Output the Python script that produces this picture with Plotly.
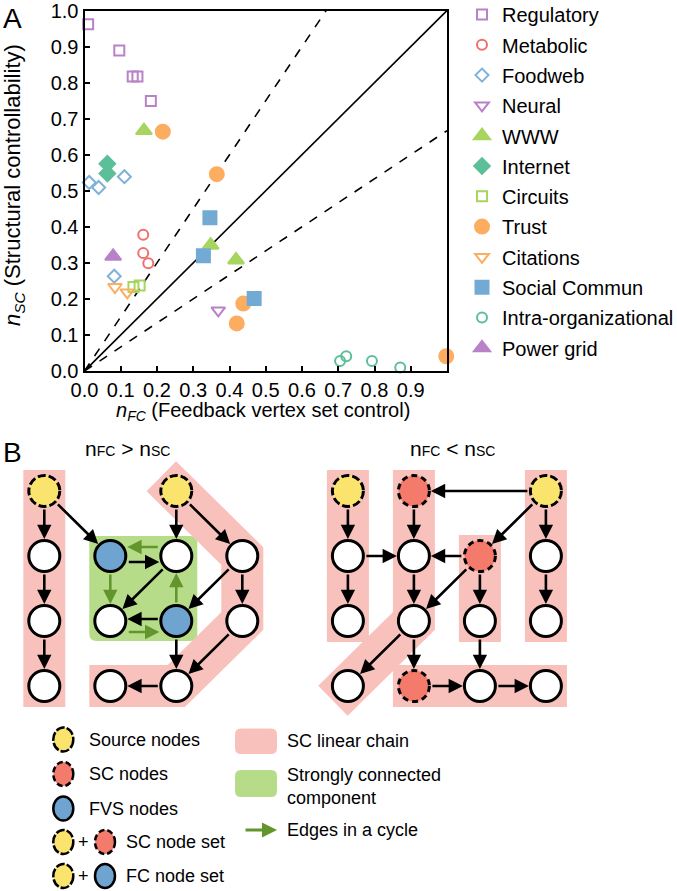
import plotly.graph_objects as go

W, H = 677, 891
FONT = "Liberation Sans, Arial, Helvetica, sans-serif"

# ---------------- Panel A data ----------------
categories = ["Regulatory", "Metabolic", "Foodweb", "Neural", "WWW", "Internet",
              "Circuits", "Trust", "Citations", "Social Commun",
              "Intra-organizational", "Power grid"]

regulatory_x = [0.010, 0.096, 0.133, 0.146, 0.183]
regulatory_y = [0.962, 0.889, 0.817, 0.817, 0.749]
metabolic_x = [0.162, 0.162, 0.176]
metabolic_y = [0.378, 0.327, 0.299]
foodweb_x = [0.013, 0.039, 0.110, 0.082]
foodweb_y = [0.523, 0.509, 0.539, 0.263]
neural_x = [0.369]
neural_y = [0.168]
www_x = [0.164, 0.348, 0.418]
www_y = [0.667, 0.349, 0.308]
internet_x = [0.063, 0.063]
internet_y = [0.575, 0.548]
circuits_x = [0.135, 0.152]
circuits_y = [0.233, 0.237]
trust_x = [0.216, 0.365, 0.438, 0.420, 0.998]
trust_y = [0.664, 0.546, 0.187, 0.132, 0.041]
citations_x = [0.084, 0.118]
citations_y = [0.233, 0.218]
social_x = [0.346, 0.328, 0.468]
social_y = [0.425, 0.320, 0.201]
intra_x = [0.705, 0.722, 0.793, 0.871]
intra_y = [0.028, 0.041, 0.028, 0.010]
powergrid_x = [0.079]
powergrid_y = [0.318]

series_x = [regulatory_x, metabolic_x, foodweb_x, neural_x, www_x, internet_x,
            circuits_x, trust_x, citations_x, social_x, intra_x, powergrid_x]
series_y = [regulatory_y, metabolic_y, foodweb_y, neural_y, www_y, internet_y,
            circuits_y, trust_y, citations_y, social_y, intra_y, powergrid_y]

# reference lines n_SC = k * n_FC
ref_slopes = [1.0, 1.5, 1 / 1.5]
ref_dash = ["solid", "dash", "dash"]

x_tick_vals = [0.0, 0.1, 0.2, 0.3, 0.4, 0.5, 0.6, 0.7, 0.8, 0.9]
y_tick_vals = [0.0, 0.1, 0.2, 0.3, 0.4, 0.5, 0.6, 0.7, 0.8, 0.9, 1.0]

PURPLE = "#b981c8"
RED = "#ef716c"
BLUE_L = "#7fb1d9"
GREEN_L = "#a7d55f"
TEAL = "#5dbf9a"
ORANGE = "#fdad60"
BLUE = "#73aad4"

styles = {
    "Regulatory": dict(symbol="square-open", color=PURPLE, size=10),
    "Metabolic": dict(symbol="circle-open", color=RED, size=10),
    "Foodweb": dict(symbol="diamond-open", color=BLUE_L, size=10),
    "Neural": dict(symbol="triangle-down-open", color=PURPLE, size=12),
    "WWW": dict(symbol="triangle-up", color=GREEN_L, size=14),
    "Internet": dict(symbol="diamond", color=TEAL, size=12),
    "Circuits": dict(symbol="square-open", color=GREEN_L, size=10),
    "Trust": dict(symbol="circle", color=ORANGE, size=14),
    "Citations": dict(symbol="triangle-down-open", color=ORANGE, size=12),
    "Social Commun": dict(symbol="square", color=BLUE, size=13),
    "Intra-organizational": dict(symbol="circle-open", color=TEAL, size=10),
    "Power grid": dict(symbol="triangle-up", color=PURPLE, size=14),
}

# ---------------- Panel B data (grid units) ----------------
# left graph (n_FC > n_SC)
L_nodes = {
    "a0": (0, 0, "source"), "a1": (0, 1, "plain"), "a2": (0, 2, "plain"), "a3": (0, 3, "plain"),
    "b1": (1, 1, "fvs"), "c1": (2, 1, "plain"), "b2": (1, 2, "plain"), "c2": (2, 2, "fvs"),
    "c0": (2, 0, "source"), "d1": (3, 1, "plain"), "d2": (3, 2, "plain"),
    "b3": (1, 3, "plain"), "c3": (2, 3, "plain"),
}
L_edges = [("a0", "a1", 0), ("a1", "a2", 0), ("a2", "a3", 0), ("a0", "b1", 0),
           ("c0", "c1", 0), ("c0", "d1", 0), ("b1", "c1", 6), ("c1", "b2", 0),
           ("c2", "b2", -2), ("d1", "c2", 0), ("d1", "d2", 0), ("c2", "c3", 0),
           ("d2", "c3", 0), ("c3", "b3", 0)]
L_cycle_edges = [("c1", "b1", -9), ("b1", "b2", 0), ("c2", "c1", 0), ("b2", "c2", 11)]
L_chains = [["a0", "a1", "a2", "a3"], ["c0", "d1", "d2", "c3", "b3"]]
L_scc = ["b1", "c1", "b2", "c2"]

# right graph (n_FC < n_SC), columns shifted
R_shift = 4.6
R_nodes = {
    "p0": (0, 0, "source"), "p1": (0, 1, "plain"), "p2": (0, 2, "plain"),
    "q0": (1, 0, "sc"), "q1": (1, 1, "plain"), "q2": (1, 2, "plain"),
    "r1": (2, 1, "sc"), "r2": (2, 2, "plain"),
    "s0": (3, 0, "source"), "s1": (3, 1, "plain"), "s2": (3, 2, "plain"),
    "t3": (0, 3, "plain"), "u3": (1, 3, "sc"), "v3": (2, 3, "plain"), "w3": (3, 3, "plain"),
}
R_edges = [("p0", "p1", 0), ("p1", "p2", 0), ("p1", "q1", 0), ("s0", "q0", 0),
           ("q0", "q1", 0), ("s0", "r1", 0), ("s0", "s1", 0), ("s1", "s2", 0),
           ("r1", "q1", 0), ("r1", "q2", 0), ("r1", "r2", 0), ("q1", "q2", 0),
           ("q2", "t3", 0), ("q2", "u3", 0), ("r2", "v3", 0), ("u3", "v3", 0),
           ("v3", "w3", 0)]
R_chains = [["p0", "p1", "p2"], ["q0", "q1", "q2", "t3"], ["r1", "r2"],
            ["s0", "s1", "s2"], ["u3", "v3", "w3"]]

node_fill = {"source": "#fbe46e", "sc": "#f47a6b", "fvs": "#70a4d0", "plain": "white"}
PINK = "#f9c1bc"
SCC_GREEN = "#b6dc89"
CYCLE_GREEN = "#62962c"

# pixel geometry of panel B grid
GX0, GY0, GDX, GDY = 44.3, 491.0, 66.0, 65.0

fig = go.Figure()

# ---------- Panel A traces ----------
for i, s in enumerate(ref_slopes):
    xe = min(1.0, 1.0 / s)
    fig.add_trace(go.Scatter(x=[0, xe], y=[0, s * xe], mode="lines",
                             line=dict(color="black", width=1.6, dash=ref_dash[i]),
                             showlegend=False, hoverinfo="skip", xaxis="x", yaxis="y"))

for name, xs, ys in zip(categories, series_x, series_y):
    st = styles[name]
    fig.add_trace(go.Scatter(
        x=xs, y=ys, mode="markers", name=name, legendgroup=name,
        marker=dict(symbol=st["symbol"], color=st["color"], size=st["size"],
                    line=dict(color=st["color"], width=2)),
        cliponaxis=False, xaxis="x", yaxis="y"))

# ---------- Panel B ----------
def pos(nodes, k, shift=0.0):
    c, r, _ = nodes[k]
    return c + shift, r


def chain_trace(nodes, chain, shift):
    pts = [pos(nodes, k, shift) for k in chain]
    pad = 21.0

    def ext(p, q):
        dxp = (p[0] - q[0]) * GDX
        dyp = (p[1] - q[1]) * GDY
        n = (dxp ** 2 + dyp ** 2) ** 0.5
        return (p[0] + dxp / n * pad / GDX, p[1] + dyp / n * pad / GDY)
    start = ext(pts[0], pts[1])
    end = ext(pts[-1], pts[-2])
    xs = [start[0]] + [p[0] for p in pts] + [end[0]]
    ys = [start[1]] + [p[1] for p in pts] + [end[1]]
    return go.Scatter(x=xs, y=ys, mode="lines", line=dict(color=PINK, width=42),
                      showlegend=False, hoverinfo="skip", xaxis="x2", yaxis="y2")


for ch in L_chains:
    fig.add_trace(chain_trace(L_nodes, ch, 0.0))
for ch in R_chains:
    fig.add_trace(chain_trace(R_nodes, ch, R_shift))


def rounded_rect(x0, y0, x1, y1, rx, ry):
    return (f"M{x0+rx},{y0} L{x1-rx},{y0} Q{x1},{y0} {x1},{y0+ry} "
            f"L{x1},{y1-ry} Q{x1},{y1} {x1-rx},{y1} L{x0+rx},{y1} "
            f"Q{x0},{y1} {x0},{y1-ry} L{x0},{y0+ry} Q{x0},{y0} {x0+rx},{y0} Z")


# SCC box
scc_c = [L_nodes[k][0] for k in L_scc]
scc_r = [L_nodes[k][1] for k in L_scc]
padx, pady = 21 / GDX, 20 / GDY
fig.add_shape(type="path", xref="x2", yref="y2", layer="below",
              path=rounded_rect(min(scc_c) - padx, min(scc_r) - pady,
                                max(scc_c) + padx, max(scc_r) + pady, 7 / GDX, 7 / GDY),
              fillcolor=SCC_GREEN, line=dict(width=0))

# nodes
for nodes, shift in [(L_nodes, 0.0), (R_nodes, R_shift)]:
    for kind in ["plain", "fvs", "source", "sc"]:
        keys = [k for k in nodes if nodes[k][2] == kind]
        if not keys:
            continue
        dashed = kind in ("source", "sc")
        fig.add_trace(go.Scatter(
            x=[nodes[k][0] + shift for k in keys], y=[nodes[k][1] for k in keys],
            mode="markers", showlegend=False, hoverinfo="skip",
            marker=dict(symbol="circle", size=31, color=node_fill[kind],
                        line=dict(color="black", width=0 if dashed else 3)),
            xaxis="x2", yaxis="y2"))
        if dashed:
            for k in keys:
                fig.add_shape(type="circle", xref="x2", yref="y2", layer="above",
                              xsizemode="pixel", ysizemode="pixel",
                              xanchor=nodes[k][0] + shift, yanchor=nodes[k][1],
                              x0=-15.5, x1=15.5, y0=-15.5, y1=15.5,
                              line=dict(color="black", width=3,
                                        dash="8px,3px" if kind == "source" else "6px,4px"))


def add_edge(nodes, a, b, off, shift, color):
    (xa, ya), (xb, yb) = pos(nodes, a, shift), pos(nodes, b, shift)
    if ya == yb:      # horizontal edge: vertical pixel offset
        oxd, oyd = 0.0, off / GDY
    elif xa == xb:    # vertical edge: horizontal pixel offset
        oxd, oyd = off / GDX, 0.0
    else:
        oxd, oyd = 0.0, 0.0
    fig.add_annotation(x=xb + oxd, y=yb + oyd, ax=xa + oxd, ay=ya + oyd,
                       xref="x2", yref="y2", axref="x2", ayref="y2", text="",
                       showarrow=True, arrowhead=2, arrowsize=1.1, arrowwidth=2.6,
                       arrowcolor=color, standoff=17, startstandoff=17)


for a, b, o in L_edges:
    add_edge(L_nodes, a, b, o, 0.0, "black")
for a, b, o in L_cycle_edges:
    add_edge(L_nodes, a, b, o, 0.0, CYCLE_GREEN)
for a, b, o in R_edges:
    add_edge(R_nodes, a, b, o, R_shift, "black")


# ---------- Bottom legend (layout, pixel placed) ----------
def P(x, y):
    return x / W, 1 - y / H


def text_ann(x, y, text, size, xanchor="center", yanchor="middle", **kw):
    px_, py_ = P(x, y)
    fig.add_annotation(x=px_, y=py_, xref="paper", yref="paper", text=text, showarrow=False,
                       xanchor=xanchor, yanchor=yanchor,
                       font=dict(size=size, family=FONT, color="black"), **kw)


leg_rows = [(739.5, ["source"], "Source nodes"), (774, ["sc"], "SC nodes"),
            (808.5, ["fvs"], "FVS nodes"), (842, ["source", "sc"], "SC node set"),
            (876, ["source", "fvs"], "FC node set")]
for y, kinds, label in leg_rows:
    xs = [63.3, 105.0][:len(kinds)]
    for x, kind in zip(xs, kinds):
        x0, y0 = P(x - 10, y + 12)
        x1, y1 = P(x + 10, y - 12)
        fig.add_shape(type="circle", xref="paper", yref="paper", x0=x0, x1=x1, y0=y0, y1=y1,
                      fillcolor=node_fill[kind],
                      line=dict(color="black", width=2.5,
                                dash="6px,3px" if kind == "sc" else ("9px,2px" if kind == "source" else "solid")))
    if len(kinds) == 2:
        text_ann(83.5, y, "+", 18)
    tx = 87.3 if len(kinds) == 1 else 124
    text_ann(tx, y, label, 18, xanchor="left")

# pink / green boxes
for (yt, yb, col) in [(728.5, 754, PINK), (770, 797, SCC_GREEN)]:
    x0, yb_p = P(235, yb)
    x1, yt_p = P(277, yt)
    rx, ry = 6 / W, 6 / H
    fig.add_shape(type="path", xref="paper", yref="paper",
                  path=rounded_rect(x0, yb_p, x1, yt_p, rx, ry),
                  fillcolor=col, line=dict(width=0))
ax1, ay1 = P(277, 830)
fig.add_annotation(x=ax1, y=ay1, ax=-33, ay=0, xref="paper", yref="paper", axref="pixel",
                   ayref="pixel", text="", showarrow=True, arrowhead=2, arrowsize=1,
                   arrowwidth=3, arrowcolor=CYCLE_GREEN)
for y, label in [(741, "SC linear chain"), (786, "Strongly connected<br>component"),
                 (830, "Edges in a cycle")]:
    text_ann(285, y, label, 18, xanchor="left", align="left")

# panel titles and letters
text_ann(12, 18, "A", 28)
text_ann(12, 452, "B", 28)
sub = "<span style='font-size:14px'>{}</span>"
text_ann(127, 448, "n" + sub.format("FC") + " &gt; n" + sub.format("SC"), 21)
text_ann(453, 448, "n" + sub.format("FC") + " &lt; n" + sub.format("SC"), 21)

# axis titles (placed as annotations)
text_ann(263, 411, "<i>n</i><sub><i>FC</i></sub> (Feedback vertex set control)", 20)
text_ann(14, 185, "<i>n</i><sub><i>SC</i></sub> (Structural controllability)", 22,
         textangle=-90)

# ---------- layout ----------
AX_L, AX_R, AX_T, AX_B = 84.5, 447.0, 10.5, 371.0
axis_common = dict(showline=True, linewidth=2, linecolor="black", mirror=True,
                   ticks="inside", ticklen=5, tickwidth=1.5, tickcolor="black",
                   showgrid=False, zeroline=False, ticklabeloverflow="allow",
                   tickfont=dict(size=20, family=FONT, color="black"))
u_left, u_right = (0 - GX0) / GDX, (W - GX0) / GDX
v_top, v_bot = (0 - GY0) / GDY, (H - GY0) / GDY
fig.update_layout(
    width=W, height=H, margin=dict(l=0, r=0, t=0, b=0, autoexpand=False),
    paper_bgcolor="white", plot_bgcolor="rgba(0,0,0,0)",
    font=dict(family=FONT, color="black"),
    xaxis=dict(domain=[AX_L / W, AX_R / W], range=[0, 1], tickvals=x_tick_vals,
               ticktext=[f"{v:.1f}" for v in x_tick_vals], anchor="y", **axis_common),
    yaxis=dict(domain=[1 - AX_B / H, 1 - AX_T / H], range=[0, 1], tickvals=y_tick_vals,
               ticktext=[f"{v:.1f}" for v in y_tick_vals], anchor="x", **axis_common),
    xaxis2=dict(domain=[0, 1], range=[u_left, u_right], visible=False, anchor="y2"),
    yaxis2=dict(domain=[0, 1], range=[v_bot, v_top], visible=False, anchor="x2"),
    legend=dict(x=462 / W, xanchor="left", y=1 + 5 / H, yanchor="top",
                font=dict(size=20, family=FONT, color="black"),
                bgcolor="rgba(0,0,0,0)", tracegroupgap=1.3, itemsizing="trace"),
    showlegend=True,
)

fig.write_html("out.html", config={"displayModeBar": False},
               post_script="document.body.style.margin='0px';")
